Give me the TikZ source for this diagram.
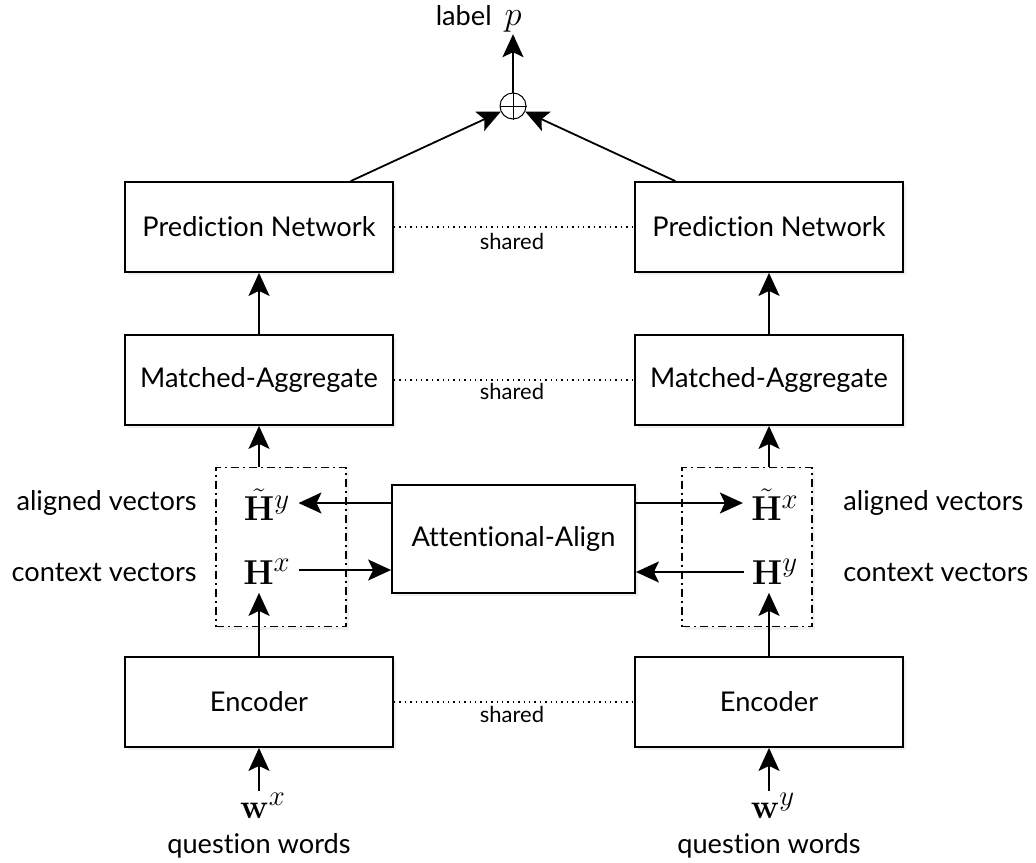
\documentclass[tikz,border=0pt]{standalone}
\usepackage[no-math]{fontspec}
\setmainfont{Lato}[Ligatures={NoCommon}]
\usepackage{amsmath}
\usetikzlibrary{arrows.meta,shadows,calc}
\begin{document}
\begin{tikzpicture}[x=0.5pt,y=-0.5pt,
  shade/.style={drop shadow={opacity=0.12,shadow xshift=1.5pt,shadow yshift=-1.5pt}},
  box/.style={draw,line width=0.9pt,fill=white,minimum width=134pt,minimum height=45pt,inner sep=2pt,font=\fontsize{13.6}{16}\selectfont,shade},
  aabox/.style={box,minimum width=121.5pt,minimum height=54pt},
  dbox/.style={draw,line width=0.9pt,fill=white,minimum width=65pt,minimum height=79.5pt,
    dash pattern=on 4pt off 2pt on 1pt off 2pt,shade},
  mth/.style={inner sep=4pt,font=\fontsize{19}{22}\selectfont},
  lbl/.style={inner sep=0pt,font=\fontsize{13.6}{16}\selectfont},
  sharedlbl/.style={inner sep=0pt,font=\fontsize{11}{13}\selectfont},
  arr/.style={-{Stealth[length=11.5pt,width=10.5pt,inset=2.5pt]},line width=0.9pt},
  shline/.style={dotted,line width=0.7pt}]
\useasboundingbox (0,0) rectangle (1036,862);

% boxes
\node[box] (pnl) at (259,227) {Prediction Network};
\node[box] (pnr) at (769,227) {Prediction Network};
\node[box] (mal) at (259,380) {Matched-Aggregate};
\node[box] (mar) at (769,380) {Matched-Aggregate};
\node[box] (enl) at (259,702) {Encoder};
\node[box] (enr) at (769,702) {Encoder};
\node[dbox] (dl) at (281,547) {};
\node[dbox] (dr) at (747,547) {};
\node[aabox] (aa) at (513.5,539) {Attentional-Align};

% math nodes
\node[mth] (hty) at (267,505) {$\tilde{\mathbf{H}}^y$};
\node[mth] (hx) at (267,572) {$\mathbf{H}^x$};
\node[mth] (htx) at (775,505) {$\tilde{\mathbf{H}}^x$};
\node[mth] (hy) at (775,572) {$\mathbf{H}^y$};
\node[mth,inner sep=1pt] (wx) at (263,806) {$\mathbf{w}^x$};
\node[mth,inner sep=1pt] (wy) at (773,806) {$\mathbf{w}^y$};

% side labels
\node[lbl,anchor=east] (alv1) at (197,503) {aligned vectors};
\node[lbl,anchor=east] (cov1) at (197,572) {context vectors};
\node[lbl,anchor=west] (alv2) at (843,503) {aligned vectors};
\node[lbl,anchor=west] (cov2) at (843,572) {context vectors};
\node[lbl] (qw1) at (259,846) {question words};
\node[lbl] (qw2) at (769,846) {question words};

% top
\node[circle,draw,line width=0.5pt,minimum size=13pt,inner sep=0pt] (op) at (513,106) {};
\draw[line width=0.5pt] (op.north) -- (op.south) (op.west) -- (op.east);
\node[inner sep=1pt,font=\fontsize{19}{22}\selectfont] (p) at (513,21) {$p$};
\node[lbl,anchor=base east] (labtxt) at ($(p.base west)+(-10,0)$) {label};

% shared lines
\draw[shline] (pnl.east) -- (pnr.west);
\draw[shline] (mal.east) -- (mar.west);
\draw[shline] (enl.east) -- (enr.west);
\node[sharedlbl] (s1) at (512,241) {shared};
\node[sharedlbl] (s2) at (512,391) {shared};
\node[sharedlbl] (s3) at (512,714) {shared};

% arrows
\draw[arr] (op.north) -- (p.south);
\draw[arr] ($(pnl.north west)!0.84!(pnl.north east)$) -- (op);
\draw[arr] ($(pnr.north west)!0.153!(pnr.north east)$) -- (op);
\draw[arr] (mal.north) -- (pnl.south);
\draw[arr] (mar.north) -- (pnr.south);
\draw[arr] (mal.south |- dl.north) -- (mal.south);
\draw[arr] (mar.south |- dr.north) -- (mar.south);
\draw[arr] (enl.north) -- (enl.north |- hx.south);
\draw[arr] (enr.north) -- (enr.north |- hy.south);
\draw[arr] (wx.north -| enl.south) -- (enl.south);
\draw[arr] (wy.north -| enr.south) -- (enr.south);
\draw[arr] (aa.west |- 0,503) -- (hty.east |- 0,503);
\draw[arr] (hx.east |- 0,570) -- (aa.west |- 0,570);
\draw[arr] (aa.east |- 0,503) -- (htx.west |- 0,503);
\draw[arr] (hy.west |- 0,572) -- (aa.east |- 0,572);
\end{tikzpicture}
\end{document}
